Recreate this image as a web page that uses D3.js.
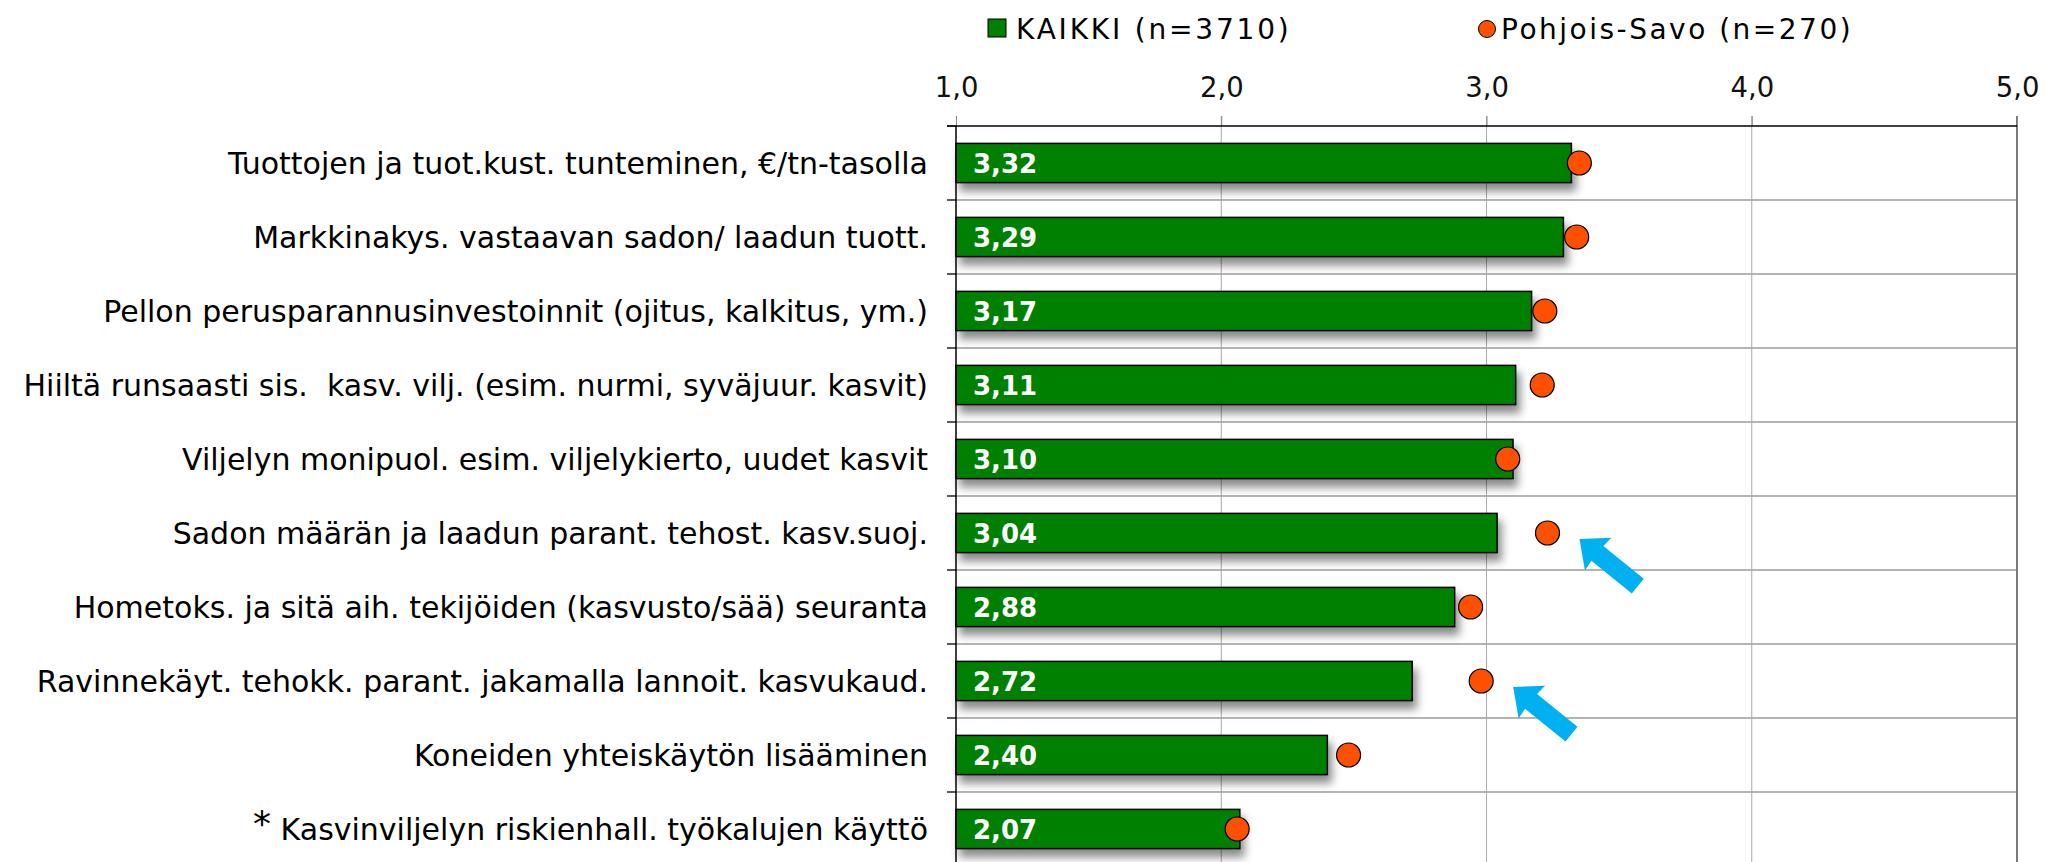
<!DOCTYPE html>
<html>
<head>
<meta charset="utf-8">
<script src="https://cdn.jsdelivr.net/npm/d3@7"></script>
<style>
  html, body { margin: 0; padding: 0; background: #fff; }
  svg { display: block; font-family: "DejaVu Sans", Verdana, sans-serif; }
  .cat-label { white-space: pre; }
</style>
</head>
<body>
<div id="chart"></div>
<script>
const categories = [
  'Tuottojen ja tuot.kust. tunteminen, €/tn-tasolla',
  'Markkinakys. vastaavan sadon/ laadun tuott.',
  'Pellon perusparannusinvestoinnit (ojitus, kalkitus, ym.)',
  'Hiiltä runsaasti sis.  kasv. vilj. (esim. nurmi, syväjuur. kasvit)',
  'Viljelyn monipuol. esim. viljelykierto, uudet kasvit',
  'Sadon määrän ja laadun parant. tehost. kasv.suoj.',
  'Hometoks. ja sitä aih. tekijöiden (kasvusto/sää) seuranta',
  'Ravinnekäyt. tehokk. parant. jakamalla lannoit. kasvukaud.',
  'Koneiden yhteiskäytön lisääminen',
  '* Kasvinviljelyn riskienhall. työkalujen käyttö'
];
const kaikki = [3.32, 3.29, 3.17, 3.11, 3.10, 3.04, 2.88, 2.72, 2.40, 2.07];
const pohjoisSavo = [3.35, 3.34, 3.22, 3.21, 3.08, 3.23, 2.94, 2.98, 2.48, 2.06];
const xTicks = [1, 2, 3, 4, 5];
const seriesNames = ['KAIKKI (n=3710)', 'Pohjois-Savo (n=270)'];
// rows marked with a blue arrow next to the Pohjois-Savo dot
const arrowRows = [5, 7];

const fmt = v => d3.format('.2f')(v).replace('.', ',');
const fmtTick = v => d3.format('.1f')(v).replace('.', ',');

const W = 2047, H = 862;
const margin = { top: 126, right: 30, bottom: -4, left: 956 };

const svg = d3.select('#chart').append('svg')
  .attr('width', W)
  .attr('height', H);

svg.append('rect').attr('width', W).attr('height', H).attr('fill', '#fff');

const defs = svg.append('defs');
const shadow = defs.append('filter')
  .attr('id', 'barShadow')
  .attr('x', '-5%').attr('y', '-30%')
  .attr('width', '115%').attr('height', '190%');
shadow.append('feDropShadow')
  .attr('dx', 4).attr('dy', 8)
  .attr('stdDeviation', 4)
  .attr('flood-color', '#000')
  .attr('flood-opacity', 0.45);

const x = d3.scaleLinear()
  .domain([1, 5])
  .range([margin.left, W - margin.right]);

const y = d3.scaleBand()
  .domain(categories)
  .range([margin.top, H - margin.bottom])
  .paddingInner(0.47)
  .paddingOuter(0.235);

const step = y.step();
const bandTop = i => margin.top + i * step;

// horizontal separators
svg.append('g').selectAll('line')
  .data(d3.range(1, categories.length + 1))
  .enter().append('line')
  .attr('x1', x(1) - 9).attr('x2', x(5))
  .attr('y1', d => bandTop(d)).attr('y2', d => bandTop(d))
  .attr('stroke', '#b4b4b4')
  .attr('stroke-width', 2);

// vertical gridlines
svg.append('g').selectAll('line')
  .data(xTicks.slice(1))
  .enter().append('line')
  .attr('x1', d => x(d)).attr('x2', d => x(d))
  .attr('y1', margin.top - 10).attr('y2', H)
  .attr('stroke', d => d === 5 ? '#7a7a7a' : '#a8a8a8')
  .attr('stroke-width', d => d === 5 ? 2 : 1);

// top axis
const xAxis = svg.append('g')
  .attr('transform', `translate(0,${margin.top})`)
  .call(d3.axisTop(x).tickValues(xTicks).tickSize(10).tickSizeOuter(0).tickFormat(fmtTick));
xAxis.select('.domain').remove();
xAxis.selectAll('.tick line').attr('stroke', '#888');
xAxis.selectAll('.tick text')
  .attr('y', -29)
  .attr('dy', 0)
  .style('font-size', '27.5px')
  .style('font-family', '"DejaVu Sans", Verdana, sans-serif')
  .attr('fill', '#111');
svg.append('line')
  .attr('x1', x(1) - 9).attr('x2', x(5))
  .attr('y1', margin.top).attr('y2', margin.top)
  .attr('stroke', '#000').attr('stroke-width', 1.5);

// bars
svg.append('g').selectAll('rect')
  .data(kaikki)
  .enter().append('rect')
  .attr('x', x(1))
  .attr('y', (d, i) => y(categories[i]))
  .attr('width', d => x(d) - x(1))
  .attr('height', y.bandwidth())
  .attr('fill', '#008000')
  .attr('stroke', '#000')
  .attr('stroke-width', 1.5)
  .attr('filter', 'url(#barShadow)');

// left axis line + ticks
svg.append('line')
  .attr('x1', x(1)).attr('x2', x(1))
  .attr('y1', margin.top).attr('y2', H)
  .attr('stroke', '#000').attr('stroke-width', 1.5);
svg.append('g').selectAll('line')
  .data(d3.range(0, categories.length + 1))
  .enter().append('line')
  .attr('x1', x(1) - 9).attr('x2', x(1))
  .attr('y1', d => bandTop(d)).attr('y2', d => bandTop(d))
  .attr('stroke', '#000').attr('stroke-width', 1);

// bar value labels
svg.append('g').selectAll('text')
  .data(kaikki)
  .enter().append('text')
  .attr('x', x(1) + 17)
  .attr('y', (d, i) => y(categories[i]) + y.bandwidth() / 2 + 10)
  .attr('fill', '#fff')
  .style('font-size', '26px')
  .style('font-weight', 'bold')
  .text(d => fmt(d));

// category labels (leading asterisk is drawn a bit larger and raised)
const catLabels = svg.append('g').selectAll('text')
  .data(categories)
  .enter().append('text')
  .attr('class', 'cat-label')
  .attr('x', x(1) - 28)
  .attr('y', d => y(d) + y.bandwidth() / 2 + 11)
  .attr('text-anchor', 'end')
  .attr('fill', '#000')
  .style('font-size', '30px');

catLabels.each(function(d) {
  const t = d3.select(this);
  if (d.startsWith('* ')) {
    t.append('tspan').attr('dy', -4).style('font-size', '36px').text('*');
    t.append('tspan').attr('dy', 4).text(d.slice(1));
  } else {
    t.text(d);
  }
});

// Pohjois-Savo dots
svg.append('g').selectAll('circle')
  .data(pohjoisSavo)
  .enter().append('circle')
  .attr('cx', d => x(d))
  .attr('cy', (d, i) => y(categories[i]) + y.bandwidth() / 2)
  .attr('r', 12)
  .attr('fill', '#ff5000')
  .attr('stroke', '#000')
  .attr('stroke-width', 1.2);

// blue arrows pointing at marked dots
const arrowShape = 'M0,0 L24,-21 L23,-9.5 L75,-9.5 L75,9.5 L23,9.5 L24,21 Z';
svg.append('g').selectAll('path')
  .data(arrowRows)
  .enter().append('path')
  .attr('d', arrowShape)
  .attr('fill', '#00b0f0')
  .attr('transform', i => {
    const cx = x(pohjoisSavo[i]) + 32;
    const cy = y(categories[i]) + y.bandwidth() / 2 + 6;
    return `translate(${cx},${cy}) rotate(39)`;
  });

// legend
const legend = svg.append('g').attr('transform', 'translate(0,29)');
legend.append('rect')
  .attr('x', 988).attr('y', -10)
  .attr('width', 18).attr('height', 18)
  .attr('fill', '#008000')
  .attr('stroke', '#000').attr('stroke-width', 1);
legend.append('text')
  .attr('x', 1016).attr('y', 10)
  .style('font-size', '28px')
  .style('letter-spacing', '2.8px')
  .attr('fill', '#000')
  .text(seriesNames[0]);
legend.append('circle')
  .attr('cx', 1487).attr('cy', 0)
  .attr('r', 8.5)
  .attr('fill', '#ff5000')
  .attr('stroke', '#000').attr('stroke-width', 1);
legend.append('text')
  .attr('x', 1501).attr('y', 10)
  .style('font-size', '28px')
  .style('letter-spacing', '2.5px')
  .attr('fill', '#000')
  .text(seriesNames[1]);
</script>
</body>
</html>
